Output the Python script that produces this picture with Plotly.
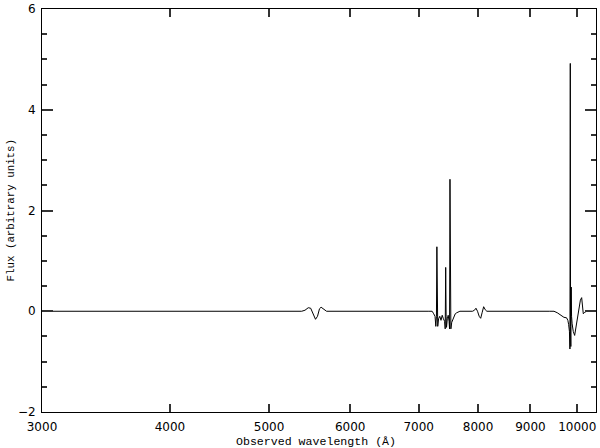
import math
import plotly.graph_objects as go

# Observed wavelength (Angstrom) and flux (arbitrary units)
wavelength = [
    3000, 5000, 5380, 5420, 5460, 5490, 5520, 5550, 5575, 5600, 5620, 5650, 5690,
    7150, 7215, 7240, 7262, 7275, 7285, 7292, 7298, 7306, 7320, 7340, 7360, 7380,
    7400, 7420, 7430, 7438, 7445, 7452, 7465, 7480, 7495, 7503, 7510, 7517, 7525,
    7540, 7568, 7600, 7625, 7680,
    7900, 7935, 7962, 7990, 8020, 8047, 8075, 8101, 8130, 8160,
    9400, 9490, 9560, 9617, 9704, 9762, 9790, 9807, 9825, 9836, 9844, 9850, 9856,
    9864, 9872, 9885, 9910, 9941, 9970, 9999, 10020, 10040, 10070, 10099, 10115,
    10136, 10170, 10213, 10430,
]
flux = [
    0, 0, 0, 0.02, 0.07, 0.06, -0.06, -0.16, -0.10, 0.05, 0.08, 0.04, 0,
    0, 0, -0.05, -0.10, -0.30, -0.10, 1.28, -0.05, -0.30, -0.15, -0.10, -0.18, -0.08,
    -0.15, -0.20, -0.35, 0.87, -0.10, -0.32, -0.15, -0.08, -0.20, -0.35, 2.62, -0.10, -0.35,
    -0.22, -0.12, -0.05, -0.03, 0,
    0, 0.02, 0.06, 0.0, -0.10, -0.14, -0.02, 0.09, 0.03, 0,
    0, 0, -0.03, -0.07, -0.12, -0.13, -0.18, -0.26, -0.40, -0.75, 4.92, -0.30, -0.70,
    0.48, -0.10, -0.25, -0.40, -0.48, -0.30, -0.15, -0.02, 0.08, 0.22, 0.27, 0.12,
    -0.05, -0.02, 0, 0,
]

x_ticks = [3000, 4000, 5000, 6000, 7000, 8000, 9000, 10000]
x_ticktext = ["3000", "4000", "5000", "6000", "7000", "8000", "9000", "10000"]
y_ticks = [-2, 0, 2, 4, 6]
y_minor_ticks = [-1.5, -1, -0.5, 0.5, 1, 1.5, 2.5, 3, 3.5, 4.5, 5, 5.5]
x_range = [3000, 10430]
y_range = [-2, 6]

fig = go.Figure()
fig.add_trace(go.Scatter(x=wavelength, y=flux, mode="lines",
                         line=dict(color="black", width=1), hoverinfo="skip"))

tick_font = dict(family="DejaVu Sans", size=12, color="black")
tick_color = "#333333"
fig.update_layout(
    width=600, height=448,
    margin=dict(l=42, r=4, t=2, b=36),
    paper_bgcolor="white", plot_bgcolor="white",
    showlegend=False,
    xaxis=dict(
        type="log", range=[math.log10(x_range[0]), math.log10(x_range[1])],
        tickmode="array", tickvals=x_ticks, ticktext=x_ticktext,
        ticks="inside", ticklen=8, tickwidth=1.5, tickcolor=tick_color,
        showline=True, linecolor="black", linewidth=1, mirror="allticks",
        showgrid=False, zeroline=False, tickfont=tick_font,
        ticklabelstandoff=4, ticklabeloverflow="allow",
    ),
    yaxis=dict(
        range=y_range, tickmode="array", tickvals=y_ticks,
        ticks="inside", ticklen=11, tickwidth=1.5, tickcolor=tick_color,
        minor=dict(tickmode="array", tickvals=y_minor_ticks,
                   ticks="inside", ticklen=5, tickcolor=tick_color, tickwidth=1.5, showgrid=False),
        showline=True, linecolor="black", linewidth=1, mirror="allticks",
        showgrid=False, zeroline=False, tickfont=tick_font,
        ticklabelstandoff=3, ticklabeloverflow="allow",
    ),
    annotations=[
        dict(text="Observed wavelength (Å)", xref="paper", yref="paper",
             x=0.495, y=0, yshift=-29, xanchor="center", yanchor="middle",
             showarrow=False, font=dict(family="Liberation Mono", size=11.6, color="black")),
        dict(text="Flux (arbitrary units)", xref="paper", yref="paper",
             x=0, xshift=-32, y=0.5, xanchor="center", yanchor="middle", textangle=-90,
             showarrow=False, font=dict(family="Liberation Mono", size=10.8, color="black")),
    ],
)

fig.write_html("out.html", config={"displayModeBar": False},
               post_script="document.body.style.margin='0';document.body.style.overflow='hidden';")
